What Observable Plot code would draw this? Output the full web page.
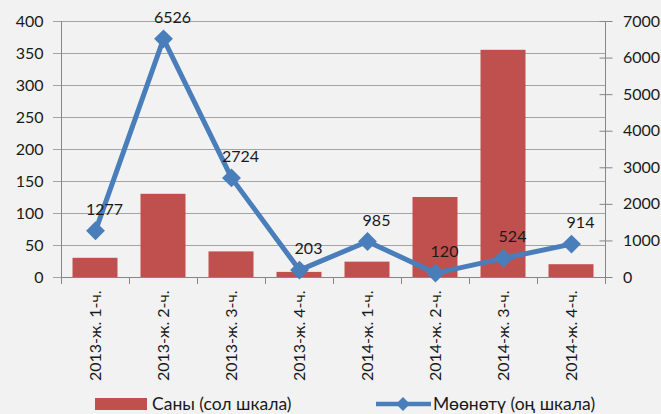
<!DOCTYPE html>
<html><head><meta charset="utf-8">
<script src="https://cdn.jsdelivr.net/npm/d3@7"></script>
<script src="https://cdn.jsdelivr.net/npm/@observablehq/plot@0.6"></script>
<style>
html,body{margin:0;padding:0;background:#f2f2f2;}
body{width:661px;height:414px;overflow:hidden;font-family:Lato,sans-serif;color:#1a1a1a;}
#chart svg{display:block;}
#legend{position:relative;height:22px;font-size:17.5px;}
#legend .item{position:absolute;top:0;height:22px;display:flex;align-items:center;white-space:nowrap;}
</style></head><body>
<div id="chart"></div>
<div id="legend"></div>
<script>
const categories = ["2013-ж. 1-ч.", "2013-ж. 2-ч.", "2013-ж. 3-ч.", "2013-ж. 4-ч.", "2014-ж. 1-ч.", "2014-ж. 2-ч.", "2014-ж. 3-ч.", "2014-ж. 4-ч."];
const countValues = [30, 130, 40, 8, 24, 125, 355, 20];
const termValues = [1277, 6526, 2724, 203, 985, 120, 524, 914];
const leftTicks = [0, 50, 100, 150, 200, 250, 300, 350, 400];
const rightTicks = [0, 1000, 2000, 3000, 4000, 5000, 6000, 7000];
const seriesNames = ["Саны (сол шкала)", "Мөөнөтү (оң шкала)"];
const leftMax = 400, rightMax = 7000;

const barColor = "#c0504d";
const lineColor = "#4a7ebb";
const axisColor = "#868686";
const gridColor = "#a3a3a3";

const toLeft = v => v * leftMax / rightMax;
const rows = categories.map((c, i) => ({cat: c, count: countValues[i], term: termValues[i], termScaled: toLeft(termValues[i])}));

function axisLines(index, scales, values, dims) {
  const g = d3.create("svg:g").attr("stroke", axisColor).attr("fill", "none").attr("stroke-width", 1);
  const xl = dims.marginLeft, xr = dims.width - dims.marginRight;
  const y0 = scales.y(0), yt = scales.y(leftMax);
  g.append("line").attr("x1", xl + 0.5).attr("x2", xl + 0.5).attr("y1", yt).attr("y2", y0 + 7);
  g.append("line").attr("x1", xr + 0.5).attr("x2", xr + 0.5).attr("y1", yt).attr("y2", y0 + 7);
  g.append("line").attr("x1", xl).attr("x2", xr).attr("y1", y0 + 0.5).attr("y2", y0 + 0.5);
  categories.forEach((c, i) => {
    if (i === 0) return;
    const x = Math.round(scales.x(c)) + 0.5;
    g.append("line").attr("x1", x).attr("x2", x).attr("y1", y0).attr("y2", y0 + 7);
  });
  return g.node();
}

const chart = Plot.plot({
  width: 661,
  height: 392,
  marginLeft: 61,
  marginRight: 56,
  marginTop: 21,
  marginBottom: 115,
  style: {background: "#f2f2f2", fontFamily: "Lato, sans-serif", fontSize: "16px", color: "#1a1a1a"},
  x: {domain: categories, padding: 0, label: null},
  y: {domain: [0, leftMax], label: null},
  marks: [
    Plot.gridY(leftTicks, {stroke: gridColor, strokeOpacity: 1}),
    Plot.barY(rows, {x: "cat", y: "count", fill: barColor, insetLeft: 11.5, insetRight: 11.5}),
    Plot.axisY(leftTicks, {anchor: "left", tickSize: 8, tickPadding: 10, stroke: gridColor, label: null, fill: "#1a1a1a", fontSize: 16}),
    Plot.axisY(rightTicks.map(toLeft), {anchor: "right", tickSize: 13, dx: -6.5, tickPadding: 11, stroke: axisColor, label: null, tickFormat: d => String(Math.round(d * rightMax / leftMax)), fill: "#1a1a1a", fontSize: 16}),
    Plot.axisX({anchor: "bottom", tickSize: 0, tickPadding: 13, tickRotate: -90, label: null, fill: "#1a1a1a", fontSize: 16}),
    axisLines,
    Plot.line(rows, {x: "cat", y: "termScaled", stroke: lineColor, strokeWidth: 5, strokeLinejoin: "round"}),
    Plot.dot(rows, {x: "cat", y: "termScaled", symbol: "diamond2", r: 8.5, fill: lineColor, stroke: null}),
    Plot.text(rows, {x: "cat", y: "termScaled", text: d => String(d.term), dx: 9, dy: -21, fontSize: 16, fill: "#1a1a1a"})
  ]
});
document.getElementById("chart").appendChild(chart);

const legend = document.getElementById("legend");
legend.innerHTML = `
  <div class="item" style="left:95px;">
    <svg width="53" height="22"><rect x="0" y="6" width="52" height="12" fill="${barColor}"></rect></svg>
    <span style="margin-left:4px;">${seriesNames[0]}</span>
  </div>
  <div class="item" style="left:375px;">
    <svg width="57" height="22"><line x1="1" x2="56" y1="12" y2="12" stroke="${lineColor}" stroke-width="4.5"></line><path d="M28,5 L35,12 L28,19 L21,12 Z" fill="${lineColor}"></path></svg>
    <span style="margin-left:1px;">${seriesNames[1]}</span>
  </div>`;
</script>
</body></html>
